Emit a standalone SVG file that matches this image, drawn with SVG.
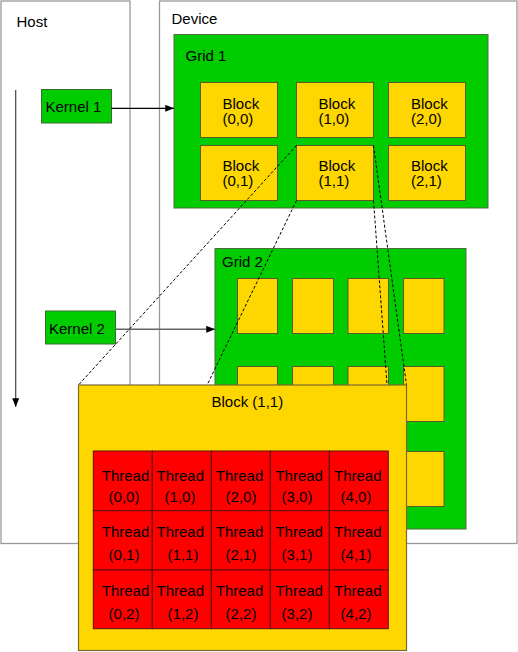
<svg xmlns="http://www.w3.org/2000/svg" width="518" height="652" viewBox="0 0 518 652">
<defs>
<style>
text{font-family:"Liberation Sans",Arial,sans-serif;font-size:15px;fill:#000}
.frame{fill:#fff;stroke:#9a9a9a;stroke-width:1.3}
.grid{fill:#00cc00;stroke:#4d6b40;stroke-width:1}
.blk{fill:#ffd700;stroke:#5c5a28;stroke-width:1}
.big{fill:#ffd700;stroke:#7a6a30;stroke-width:1.2}
.thr{fill:#ff0000;stroke:#5a1010;stroke-width:1}
.kern{fill:#00cc00;stroke:#3d6b30;stroke-width:1}
.dash{fill:none;stroke:#000;stroke-width:1;stroke-dasharray:3,2}
.mid{text-anchor:middle}
</style>
<marker id="ah" viewBox="0 0 10 8" refX="10" refY="4" markerWidth="9" markerHeight="7" markerUnits="userSpaceOnUse" orient="auto">
<path d="M0,0 L10,4 L0,8 z" fill="#000"/>
</marker>
</defs>

<g id="host">
<rect class="frame" x="1" y="1" width="129" height="542.5"/>
<text x="16.5" y="27">Host</text>
</g>
<g id="device">
<rect class="frame" x="159.5" y="1" width="357.5" height="542.5"/>
<text x="171.5" y="24">Device</text>
</g>

<g id="grid1">
<rect class="grid" x="174" y="34.5" width="314" height="173.5"/>
<text x="185.5" y="61">Grid 1</text>
<g id="g1b00"><rect class="blk" x="200.5" y="82.5" width="77" height="55"/><text x="222.5" y="108.5">Block</text><text x="222.5" y="123.5">(0,0)</text></g>
<g id="g1b10"><rect class="blk" x="296.5" y="82.5" width="77" height="55"/><text x="318.5" y="108.5">Block</text><text x="318.5" y="123.5">(1,0)</text></g>
<g id="g1b20"><rect class="blk" x="388.5" y="82.5" width="77" height="55"/><text x="411" y="108.5">Block</text><text x="411" y="123.5">(2,0)</text></g>
<g id="g1b01"><rect class="blk" x="200.5" y="145.5" width="77" height="55"/><text x="222.5" y="170.5">Block</text><text x="222.5" y="185.5">(0,1)</text></g>
<g id="g1b11"><rect class="blk" x="296.5" y="145.5" width="77" height="55"/><text x="318.5" y="170.5">Block</text><text x="318.5" y="185.5">(1,1)</text></g>
<g id="g1b21"><rect class="blk" x="388.5" y="145.5" width="77" height="55"/><text x="411" y="170.5">Block</text><text x="411" y="185.5">(2,1)</text></g>
</g>

<g id="grid2">
<rect class="grid" x="215" y="248.5" width="251" height="280.5"/>
<text x="222" y="266.5">Grid 2</text>
<rect class="blk" x="237.5" y="278.5" width="40" height="55"/>
<rect class="blk" x="292.5" y="278.5" width="41" height="55"/>
<rect class="blk" x="348" y="278.5" width="40.5" height="55"/>
<rect class="blk" x="403.5" y="278.5" width="40.5" height="55"/>
<rect class="blk" x="237.5" y="366.5" width="40" height="55"/>
<rect class="blk" x="292.5" y="366.5" width="41" height="55"/>
<rect class="blk" x="348" y="366.5" width="40.5" height="55"/>
<rect class="blk" x="403.5" y="366.5" width="40.5" height="55"/>
<rect class="blk" x="237.5" y="451.5" width="40" height="55"/>
<rect class="blk" x="292.5" y="451.5" width="41" height="55"/>
<rect class="blk" x="348" y="451.5" width="40.5" height="55"/>
<rect class="blk" x="403.5" y="451.5" width="40.5" height="55"/>
</g>

<g id="kernel1">
<rect class="kern" x="41.5" y="89.5" width="70" height="33.5"/>
<text x="45.5" y="112">Kernel 1</text>
</g>
<g id="kernel2">
<rect class="kern" x="45.5" y="311" width="70" height="33"/>
<text x="49" y="334">Kernel 2</text>
</g>

<g id="connectors">
<line x1="15.7" y1="90" x2="15.7" y2="407" stroke="#444" stroke-width="1.2" marker-end="url(#ah)"/>
<line x1="111.5" y1="108.3" x2="174" y2="108.3" stroke="#000" stroke-width="1.2" marker-end="url(#ah)"/>
<line x1="115.5" y1="329.3" x2="215" y2="329.3" stroke="#666" stroke-width="1.6" marker-end="url(#ah)"/>
<line class="dash" x1="296.5" y1="145.5" x2="78.5" y2="385"/>
<line class="dash" x1="296.5" y1="200.5" x2="78.5" y2="650.5"/>
<line class="dash" x1="373.5" y1="145.5" x2="406.5" y2="385"/>
<line class="dash" x1="373.5" y1="200.5" x2="406.5" y2="650.5"/>
</g>

<g id="block11">
<rect class="big" x="78.5" y="385" width="328" height="265.5"/>
<text x="211.5" y="407.3">Block (1,1)</text>
<g id="threads">
<rect class="thr" x="93.3" y="451" width="59" height="59.7"/>
<rect class="thr" x="152.3" y="451" width="59" height="59.7"/>
<rect class="thr" x="211.3" y="451" width="59" height="59.7"/>
<rect class="thr" x="270.3" y="451" width="59" height="59.7"/>
<rect class="thr" x="329.3" y="451" width="59" height="59.7"/>
<rect class="thr" x="93.3" y="510.7" width="59" height="59.3"/>
<rect class="thr" x="152.3" y="510.7" width="59" height="59.3"/>
<rect class="thr" x="211.3" y="510.7" width="59" height="59.3"/>
<rect class="thr" x="270.3" y="510.7" width="59" height="59.3"/>
<rect class="thr" x="329.3" y="510.7" width="59" height="59.3"/>
<rect class="thr" x="93.3" y="570" width="59" height="58.7"/>
<rect class="thr" x="152.3" y="570" width="59" height="58.7"/>
<rect class="thr" x="211.3" y="570" width="59" height="58.7"/>
<rect class="thr" x="270.3" y="570" width="59" height="58.7"/>
<rect class="thr" x="329.3" y="570" width="59" height="58.7"/>
</g>
<g class="mid">
<text class="mid" x="125.5" y="481">Thread</text><text class="mid" x="124" y="501.7">(0,0)</text>
<text class="mid" x="180.3" y="481">Thread</text><text class="mid" x="180" y="501.7">(1,0)</text>
<text class="mid" x="239.5" y="481">Thread</text><text class="mid" x="241" y="501.7">(2,0)</text>
<text class="mid" x="299.2" y="481">Thread</text><text class="mid" x="297" y="501.7">(3,0)</text>
<text class="mid" x="357.8" y="481">Thread</text><text class="mid" x="356" y="501.7">(4,0)</text>
<text class="mid" x="125.5" y="536.7">Thread</text><text class="mid" x="124" y="560">(0,1)</text>
<text class="mid" x="180.3" y="536.7">Thread</text><text class="mid" x="183" y="560">(1,1)</text>
<text class="mid" x="239.5" y="536.7">Thread</text><text class="mid" x="241" y="560">(2,1)</text>
<text class="mid" x="299.2" y="536.7">Thread</text><text class="mid" x="297" y="560">(3,1)</text>
<text class="mid" x="357.8" y="536.7">Thread</text><text class="mid" x="356" y="560">(4,1)</text>
<text class="mid" x="125.5" y="596">Thread</text><text class="mid" x="124" y="619">(0,2)</text>
<text class="mid" x="180.3" y="596">Thread</text><text class="mid" x="183" y="619">(1,2)</text>
<text class="mid" x="239.5" y="596">Thread</text><text class="mid" x="241" y="619">(2,2)</text>
<text class="mid" x="299.2" y="596">Thread</text><text class="mid" x="297" y="619">(3,2)</text>
<text class="mid" x="357.8" y="596">Thread</text><text class="mid" x="356" y="619">(4,2)</text>
</g>
</g>
</svg>
